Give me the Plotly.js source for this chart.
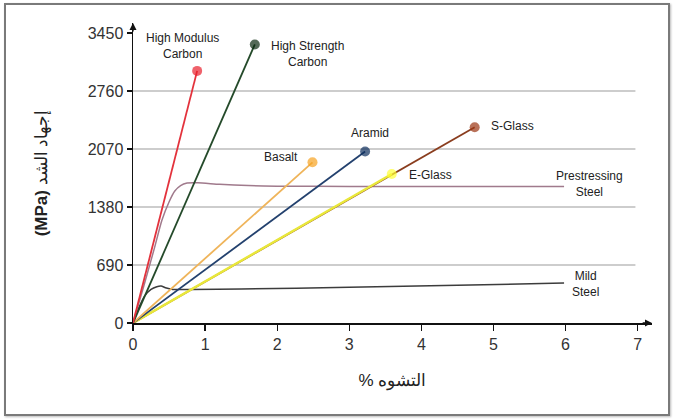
<!DOCTYPE html>
<html><head><meta charset="utf-8">
<script src="https://cdn.plot.ly/plotly-3.0.1.min.js"></script>
<style>
html,body{margin:0;padding:0;background:#fff;}
#wrap{position:relative;width:676px;height:420px;}
#chart{width:676px;height:420px;}
#frame{position:absolute;left:4px;top:3px;width:662px;height:409px;border:2px solid #7a7a7a;box-shadow:1px 1px 2px #bbb;pointer-events:none;}
</style></head>
<body>
<div id="wrap"><div id="chart"></div><div id="frame"></div></div>
<script>
// ---- data ----
const hmCarbonX = [0, 0.89];      const hmCarbonY = [0, 3000];
const hsCarbonX = [0, 1.69];      const hsCarbonY = [0, 3315];
const basaltX   = [0, 2.49];      const basaltY   = [0, 1912];
const aramidX   = [0, 3.22];      const aramidY   = [0, 2040];
const sGlassX   = [0, 4.74];      const sGlassY   = [0, 2330];
const eGlassX   = [0, 3.59];      const eGlassY   = [0, 1773];
const psSteelX  = [0, 0.15, 0.3, 0.4, 0.5, 0.58, 0.66, 0.75, 0.9, 1.2, 1.6, 2.0, 3.0, 4.0, 5.0, 5.98];
const psSteelY  = [0, 440, 900, 1220, 1440, 1570, 1635, 1665, 1668, 1650, 1635, 1628, 1625, 1625, 1624, 1624];
const mildSteelX = [0, 0.08, 0.16, 0.25, 0.33, 0.39, 0.45, 0.55, 0.8, 1.5, 3.0, 4.5, 5.98];
const mildSteelY = [0, 180, 320, 400, 432, 440, 420, 400, 398, 405, 425, 450, 475];
const yTicks = [0, 690, 1380, 2070, 2760, 3450];
const xTicks = [0, 1, 2, 3, 4, 5, 6, 7];
const gridValues = [690, 1380, 2070, 2760];
const labels = [
  {t:'High Modulus<br>Carbon', x:0.69, y:3300},
  {t:'High Strength<br>Carbon', x:2.42, y:3205},
  {t:'Aramid', x:3.29, y:2265},
  {t:'Basalt', x:2.06, y:1975},
  {t:'S-Glass', x:5.27, y:2345},
  {t:'E-Glass', x:4.13, y:1762},
  {t:'Prestressing<br>Steel', x:6.33, y:1660},
  {t:'Mild<br>Steel', x:6.28, y:462}
];

function curve(x, y, color, w){
  return {x:x, y:y, type:'scatter', mode:'lines', line:{color:color, width:w, shape:'spline', smoothing:0.6}, hoverinfo:'skip'};
}
function bar(x, y, lc, mc, w){
  return {x:x, y:y, type:'scatter', mode:'lines+markers',
    line:{color:lc, width:w},
    marker:{color:mc, size:[0,10], line:{width:0}}, hoverinfo:'skip'};
}

const traces = [
  curve(mildSteelX, mildSteelY, '#3c3c3c', 1.5),
  curve(psSteelX, psSteelY, '#a07a8c', 1.5),
  bar(sGlassX, sGlassY, '#8a3d1e', '#9b3413', 1.8),
  bar(eGlassX, eGlassY, '#e9e83a', '#ffff33', 2.4),
  bar(aramidX, aramidY, '#23416e', '#0e2f5e', 1.8),
  bar(basaltX, basaltY, '#efb45a', '#f7a321', 1.8),
  bar(hsCarbonX, hsCarbonY, '#244a2a', '#0b2a10', 1.8),
  bar(hmCarbonX, hmCarbonY, '#e3323c', '#e8202c', 1.8)
];

const shapes = gridValues.map(v => ({type:'line', xref:'x', yref:'y', x0:0, x1:6.97, y0:v, y1:v, line:{color:'#bdbdbd', width:1.5}, layer:'below'}));

const annotations = labels.map(l => ({x:l.x, y:l.y, text:l.t, showarrow:false, xref:'x', yref:'y',
  font:{family:'Arial, Liberation Sans, sans-serif', size:12, color:'#222'}, align:'center'}));
annotations.push({x:7.2, y:0, ax:7.05, ay:0, axref:'x', ayref:'y', xref:'x', yref:'y', text:'', showarrow:true, arrowhead:2, arrowsize:1, arrowwidth:1.4, arrowcolor:'#111'});
annotations.push({x:0, y:3570, ax:0, ay:3450, axref:'x', ayref:'y', xref:'x', yref:'y', text:'', showarrow:true, arrowhead:2, arrowsize:1, arrowwidth:1.4, arrowcolor:'#111'});

const layout = {
  width:676, height:420,
  margin:{l:133, r:24, t:23, b:97},
  paper_bgcolor:'#fff', plot_bgcolor:'#fff',
  showlegend:false,
  font:{family:'Arial, Liberation Sans, sans-serif', color:'#333'},
  xaxis:{range:[0,7.2], tickvals:xTicks, ticktext:xTicks.map(String), showgrid:false, zeroline:false,
    showline:true, linecolor:'#111', linewidth:1.5, ticks:'outside', ticklen:6, tickcolor:'#111', tickwidth:1.2,
    tickfont:{size:16, color:'#333'},
    title:{text:'% التشوه', font:{size:17, color:'#222'}, standoff:22}},
  yaxis:{range:[0,3570], tickvals:yTicks, ticktext:yTicks.map(String), showgrid:false, zeroline:false,
    showline:true, linecolor:'#111', linewidth:1.5, ticks:'outside', ticklen:5, tickcolor:'#111', tickwidth:1.2,
    tickfont:{size:16, color:'#333'},
    title:{text:'<b>(MPa)</b> إجهاد الشد', font:{size:17, color:'#222'}, standoff:36}},
  shapes:shapes,
  annotations:annotations
};
Plotly.newPlot('chart', traces, layout, {staticPlot:true, displayModeBar:false});
</script>
</body></html>
